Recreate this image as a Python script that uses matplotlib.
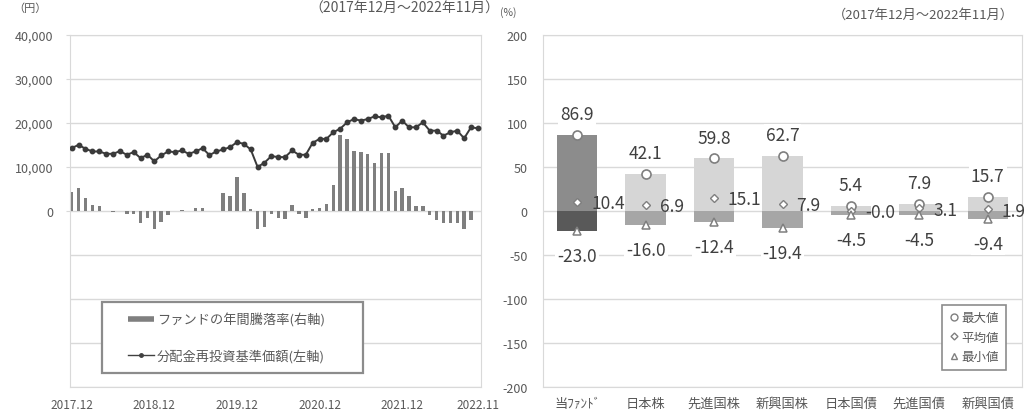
import matplotlib
matplotlib.use('Agg')
import matplotlib.pyplot as plt
from matplotlib.lines import Line2D
from matplotlib.patches import Rectangle
from matplotlib.ticker import FuncFormatter

plt.rcParams['font.family'] = ['Noto Sans CJK JP', 'DejaVu Sans']
plt.rcParams['axes.unicode_minus'] = False

# ---------------- data: left chart ----------------
date_tick_labels = ['2017.12', '2018.12', '2019.12', '2020.12', '2021.12', '2022.11']
date_tick_index = [0, 12, 24, 36, 48, 59]

nav_yen = [14290, 15040, 14140, 13530, 13530, 13000, 13000, 13600, 12780, 13380,
           12030, 12780, 11280, 12630, 13530, 13380, 13760, 13000, 13530, 14290,
           12700, 13530, 13980, 14510, 15640, 15260, 13980, 10000, 10980, 12480,
           12250, 12250, 13760, 12780, 12780, 15490, 16390, 16390, 17900, 18700,
           20150, 20900, 20530, 20900, 21510, 21290, 21660, 19020, 20530, 19020,
           19020, 20150, 18260, 18260, 17130, 17880, 18260, 16520, 19020, 18790]

annual_return = [21.8, 26.7, 15.0, 6.8, 6.0, 0.3, -0.8, -0.3, -3.8, -3.5,
                 -13.5, -8.3, -20.0, -12.0, -4.5, 0.3, 1.5, 0.3, 3.6, 3.6,
                 0.3, 0.5, 19.9, 17.3, 38.7, 19.9, 2.5, -21.0, -18.5, -3.5,
                 -8.0, -9.5, 7.2, -3.5, -7.5, 2.8, 3.6, 7.5, 29.5, 86.2,
                 81.5, 68.0, 67.3, 65.0, 54.8, 66.0, 66.0, 23.0, 25.6, 17.0,
                 5.7, 5.7, -5.0, -10.0, -14.0, -14.0, -14.0, -21.0, -10.0, -0.5]

left_legend_labels = ['ファンドの年間騰落率(右軸)', '分配金再投資基準価額(左軸)']

# ---------------- data: right chart ----------------
categories = ['当ﾌｧﾝﾄﾞ', '日本株', '先進国株', '新興国株', '日本国債', '先進国債', '新興国債']
max_vals = [86.9, 42.1, 59.8, 62.7, 5.4, 7.9, 15.7]
avg_vals = [10.4, 6.9, 15.1, 7.9, -0.0, 3.1, 1.9]
min_vals = [-23.0, -16.0, -12.4, -19.4, -4.5, -4.5, -9.4]
right_legend_labels = ['最大値', '平均値', '最小値']

GRID = '#d9d9d9'
TXT = '#595959'

fig = plt.figure(figsize=(10.24, 4.14), dpi=100)

# ---------------- left chart ----------------
rect_left = [70 / 1024, 26 / 414, 411 / 1024, 352 / 414]
ax = fig.add_axes(rect_left)
ax2 = ax.twinx()
ax.set_zorder(2)
ax2.set_zorder(1)
ax.patch.set_visible(False)

x = list(range(len(nav_yen)))
ax2.bar(x, annual_return, width=0.5, color='#7f7f7f', zorder=2)
ax2.set_ylim(-200, 200)
ax2.set_yticks(range(-200, 201, 50))
ax2.tick_params(axis='y', right=False, labelright=False, length=0)
ax2.yaxis.grid(True, color=GRID, lw=1)
ax2.set_axisbelow(True)
for s in ax2.spines.values():
    s.set_color(GRID)

ax.plot(x, nav_yen, color='#3a3a3a', lw=1.4, marker='o', ms=3.2, zorder=3)
ax.set_ylim(-40000, 40000)
ax.set_yticks([0, 10000, 20000, 30000, 40000])
ax.yaxis.set_major_formatter(FuncFormatter(lambda v, p: f'{int(v):,}'))
ax.tick_params(axis='y', length=3, color=GRID, labelsize=9, labelcolor=TXT, pad=9)
ax.set_xlim(-0.25, 59.45)
ax.set_xticks(date_tick_index)
ax.set_xticklabels(date_tick_labels)
ax.tick_params(axis='x', length=0, labelsize=8.5, labelcolor=TXT, pad=8)
for s in ax.spines.values():
    s.set_visible(False)

box = Rectangle((0.078, 0.04), 0.635, 0.202, transform=ax.transAxes,
                facecolor='white', edgecolor='#8c8c8c', lw=1.6, zorder=5)
ax.add_patch(box)
h1 = Line2D([0], [0], color='#7f7f7f', lw=4, solid_capstyle='butt')
h2 = Line2D([0], [0], color='#404040', lw=1, marker='o', ms=2.5)
leg = ax.legend([h1, h2], left_legend_labels, loc='center',
                bbox_to_anchor=(0.38, 0.141), frameon=False, fontsize=9.5,
                handlelength=2.0, handletextpad=0.2, labelspacing=1.7)
leg.set_zorder(6)
for t in leg.get_texts():
    t.set_color(TXT)

fig.text(13 / 1024, 1 - 9 / 414, '（円）', fontsize=8, color=TXT, va='center', ha='left')
fig.text(499 / 1024, 1 - 9 / 414, '（2017年12月～2022年11月）', fontsize=10,
         color=TXT, va='center', ha='right')

# ---------------- right chart ----------------
axr = fig.add_axes([543 / 1024, 26 / 414, 479 / 1024, 352 / 414])
xc = list(range(len(categories)))
upper_colors = ['#8c8c8c'] + ['#d6d6d6'] * (len(categories) - 1)
lower_colors = ['#595959'] + ['#a6a6a6'] * (len(categories) - 1)
axr.bar(xc, max_vals, width=0.59, color=upper_colors, zorder=2)
axr.bar(xc, min_vals, width=0.59, color=lower_colors, zorder=2)

axr.plot(xc, max_vals, 'o', mfc='white', mec='#7f7f7f', ms=6.5, mew=1.2, zorder=4)
axr.plot(xc, avg_vals, 'D', mfc='white', mec='#7f7f7f', ms=4.2, mew=1.0, zorder=4)
axr.plot(xc, min_vals, '^', mfc='white', mec='#7f7f7f', ms=6, mew=1.1, zorder=4)

lbl_kw = dict(textcoords='offset points', va='center', fontsize=12.5, color='#404040',
              zorder=5)
box_kw = dict(facecolor='white', edgecolor='none', pad=1.5)
for i in xc:
    axr.annotate(f'{max_vals[i]:.1f}', (i, max_vals[i]), xytext=(0, 15), ha='center',
                 bbox=box_kw, **lbl_kw)
    axr.annotate(f'{avg_vals[i]:.1f}', (i, avg_vals[i]), xytext=(10, -1), ha='left',
                 **lbl_kw)
    axr.annotate(f'{min_vals[i]:.1f}', (i, min_vals[i]), xytext=(0, -18), ha='center',
                 bbox=box_kw, **lbl_kw)

axr.set_ylim(-200, 200)
axr.set_yticks(range(-200, 201, 50))
axr.set_xlim(-0.5, 6.5)
axr.set_xticks(xc)
axr.set_xticklabels(categories)
axr.tick_params(axis='y', length=0, labelsize=9, labelcolor=TXT, pad=11)
axr.tick_params(axis='x', length=0, labelsize=9.5, labelcolor=TXT, pad=7)
axr.yaxis.grid(True, color=GRID, lw=1)
axr.set_axisbelow(True)
for s in axr.spines.values():
    s.set_color(GRID)

hm = [Line2D([0], [0], ls='none', marker='o', mfc='white', mec='#7f7f7f', ms=5),
      Line2D([0], [0], ls='none', marker='D', mfc='white', mec='#7f7f7f', ms=3.5),
      Line2D([0], [0], ls='none', marker='^', mfc='white', mec='#7f7f7f', ms=5)]
legr = axr.legend(hm, right_legend_labels, loc='lower right', bbox_to_anchor=(0.979, 0.031),
                  fontsize=9, handlelength=0.8, handletextpad=0.2, borderpad=0.55,
                  labelspacing=0.5, fancybox=False, framealpha=1, edgecolor='#8c8c8c')
legr.get_frame().set_linewidth(1.2)
legr.set_zorder(6)
for t in legr.get_texts():
    t.set_color(TXT)

fig.text(500 / 1024, 1 - 13 / 414, '(%)', fontsize=7.5, color=TXT, va='center', ha='left')
fig.text(1014 / 1024, 1 - 15 / 414, '（2017年12月～2022年11月）', fontsize=9.5,
         color=TXT, va='center', ha='right')

fig.savefig('out.png', dpi=100)
